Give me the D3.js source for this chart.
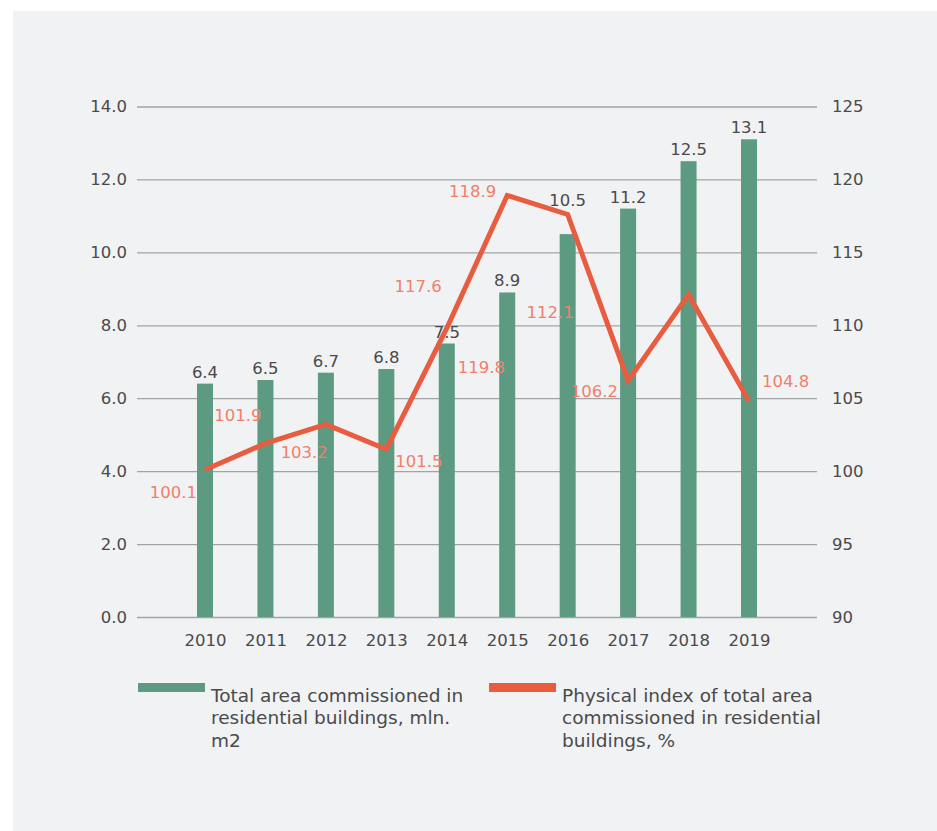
<!DOCTYPE html>
<html>
<head>
<meta charset="utf-8">
<script src="https://cdn.jsdelivr.net/npm/d3@7"></script>
<style>
  html, body { margin: 0; padding: 0; background: #ffffff; }
  svg { display: block; }
  text { font-family: "DejaVu Sans", "Noto Sans", sans-serif; }
</style>
</head>
<body>
<svg id="chart" width="937" height="831"></svg>
<script>
// Housing commissioning, 2010–2019
const years = ["2010", "2011", "2012", "2013", "2014", "2015", "2016", "2017", "2018", "2019"];
const areaValues = [6.4, 6.5, 6.7, 6.8, 7.5, 8.9, 10.5, 11.2, 12.5, 13.1];          // mln. m2
const indexValues = [100.1, 101.9, 103.2, 101.5, 109.8, 118.9, 117.6, 106.2, 112.1, 104.8]; // %

// Index labels as printed, each attached to the year it sits beside
const indexLabelText = ["100.1", "101.9", "103.2", "101.5", "119.8", "117.6", "118.9", "112.1", "106.2", "104.8"];
const indexLabelYear = ["2010", "2011", "2012", "2013", "2014", "2014", "2015", "2016", "2017", "2019"];

const leftTicks = [0, 2, 4, 6, 8, 10, 12, 14];
const rightTicks = [90, 95, 100, 105, 110, 115, 120, 125];

const legendArea = ["Total area commissioned in", "residential buildings, mln.", "m2"];
const legendIndex = ["Physical index of total area", "commissioned in residential", "buildings, %"];

const COLORS = {
  panel: "#f1f2f4",
  grid: "#a3a3a5",
  text: "#4a4a4a",
  bar: "#5c9a82",
  line: "#e85c40",
  lineLabel: "#f0806a"
};
const FONT = 16.5;        // numbers
const LEGEND_FONT = 18.5; // legend text

const svg = d3.select("#chart");

// background panel
svg.append("rect")
  .attr("x", 13).attr("y", 11)
  .attr("width", 924).attr("height", 820)
  .attr("fill", COLORS.panel);

const plot = { left: 137, right: 817, top: 106.5, bottom: 617 };

const x = d3.scalePoint().domain(years).range([205, 749]);
const yL = d3.scaleLinear().domain([0, 14]).range([plot.bottom, plot.top]);
const yR = d3.scaleLinear().domain([90, 125]).range([plot.bottom, plot.top]);
const barWidth = 16;

// gridlines
const grid = svg.append("g")
  .attr("transform", `translate(${plot.left},0)`)
  .call(d3.axisLeft(yL).tickValues(leftTicks).tickSize(-(plot.right - plot.left)).tickFormat(""));
grid.select(".domain").remove();
grid.selectAll("line").attr("stroke", COLORS.grid).attr("stroke-width", 1.3);

// left axis labels
const axL = svg.append("g")
  .attr("transform", `translate(${plot.left},0)`)
  .call(d3.axisLeft(yL).tickValues(leftTicks).tickSize(0).tickPadding(10).tickFormat(d3.format(".1f")));
axL.select(".domain").remove();
axL.selectAll("text").attr("font-size", FONT).attr("fill", COLORS.text).attr("font-family", null);

// right axis labels
const axR = svg.append("g")
  .attr("transform", `translate(${plot.right},0)`)
  .call(d3.axisRight(yR).tickValues(rightTicks).tickSize(0).tickPadding(15));
axR.select(".domain").remove();
axR.selectAll("text").attr("font-size", FONT).attr("fill", COLORS.text).attr("font-family", null);

// year labels
const axX = svg.append("g")
  .attr("transform", `translate(0,${plot.bottom})`)
  .call(d3.axisBottom(x).tickSize(0).tickPadding(17));
axX.select(".domain").remove();
axX.selectAll("text").attr("font-size", FONT).attr("fill", COLORS.text).attr("font-family", null);

// bars
svg.append("g").selectAll("rect")
  .data(areaValues)
  .join("rect")
  .attr("x", (d, i) => x(years[i]) - barWidth / 2)
  .attr("y", d => yL(d))
  .attr("width", barWidth)
  .attr("height", d => yL(0) - yL(d))
  .attr("fill", COLORS.bar);

// bar value labels; the 2016 one is lifted clear of the line
const barLabelLift = { "2016": 22 };
svg.append("g").selectAll("text")
  .data(areaValues)
  .join("text")
  .attr("x", (d, i) => x(years[i]))
  .attr("y", (d, i) => yL(d) - 6 - (barLabelLift[years[i]] || 0))
  .attr("text-anchor", "middle")
  .attr("font-size", FONT)
  .attr("fill", COLORS.text)
  .text(d => d.toFixed(1));

// index line
const line = d3.line()
  .x((d, i) => x(years[i]))
  .y(d => yR(d));
svg.append("path")
  .datum(indexValues)
  .attr("d", line)
  .attr("fill", "none")
  .attr("stroke", COLORS.line)
  .attr("stroke-width", 5)
  .attr("stroke-linejoin", "miter");

// index labels: offsets from the point of the year they sit beside
const labelPlacement = [
  { anchor: "end",   dx: -8,  dy: 28 },
  { anchor: "end",   dx: -4,  dy: -22 },
  { anchor: "end",   dx: 2,   dy: 34 },
  { anchor: "start", dx: 9,   dy: 18 },
  { anchor: "start", dx: 11,  dy: 45 },
  { anchor: "end",   dx: -5,  dy: -36 },
  { anchor: "end",   dx: -11, dy: 2 },
  { anchor: "end",   dx: 6,   dy: 104 },
  { anchor: "end",   dx: -10, dy: 16 },
  { anchor: "start", dx: 13,  dy: -14 }
];
svg.append("g").selectAll("text")
  .data(indexLabelText)
  .join("text")
  .attr("x", (d, i) => x(indexLabelYear[i]) + labelPlacement[i].dx)
  .attr("y", (d, i) => yR(indexValues[years.indexOf(indexLabelYear[i])]) + labelPlacement[i].dy)
  .attr("text-anchor", (d, i) => labelPlacement[i].anchor)
  .attr("font-size", FONT)
  .attr("fill", COLORS.lineLabel)
  .text(d => d);

// legend
const legend = svg.append("g");
function legendItem(gx, color, lines) {
  const g = legend.append("g").attr("transform", `translate(${gx},683)`);
  g.append("rect").attr("width", 67).attr("height", 9).attr("fill", color);
  g.append("text")
    .attr("font-size", LEGEND_FONT)
    .attr("fill", COLORS.text)
    .selectAll("tspan")
    .data(lines)
    .join("tspan")
    .attr("x", 73)
    .attr("y", (d, i) => 18.5 + i * 22.5)
    .text(d => d);
}
legendItem(138, COLORS.bar, legendArea);
legendItem(489, COLORS.line, legendIndex);
</script>
</body>
</html>
